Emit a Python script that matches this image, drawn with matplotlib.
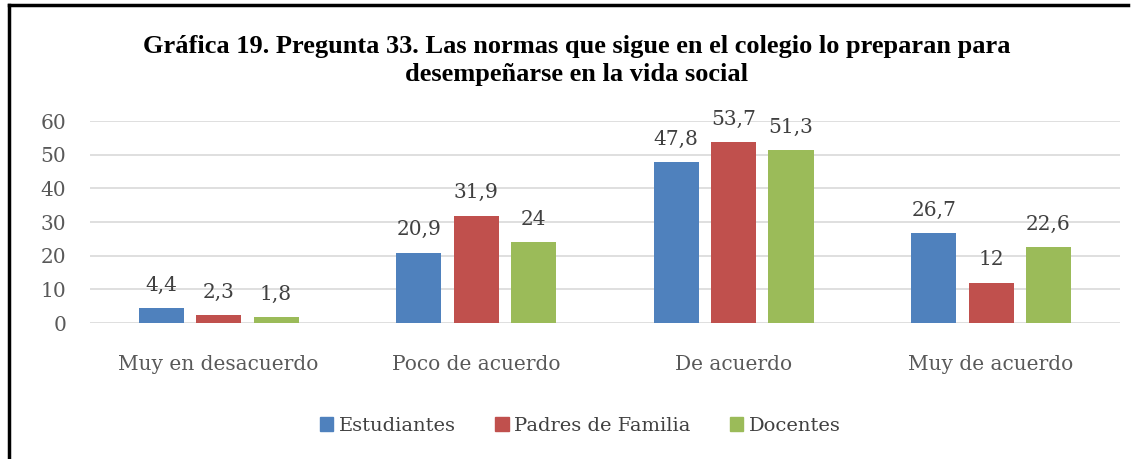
import matplotlib.pyplot as plt
import numpy as np
from matplotlib.lines import Line2D
from matplotlib.patches import Patch

# Data
categories = ["Muy en desacuerdo", "Poco de acuerdo", "De acuerdo", "Muy de acuerdo"]
series_names = ["Estudiantes", "Padres de Familia", "Docentes"]
estudiantes = [4.4, 20.9, 47.8, 26.7]
padres = [2.3, 31.9, 53.7, 12]
docentes = [1.8, 24, 51.3, 22.6]
value_labels = [
    ["4,4", "20,9", "47,8", "26,7"],
    ["2,3", "31,9", "53,7", "12"],
    ["1,8", "24", "51,3", "22,6"],
]
colors = ["#4F81BD", "#C0504D", "#9BBB59"]

fig = plt.figure(figsize=(11.38, 4.59), dpi=100)
ax = fig.add_axes([0.079, 0.296, 0.905, 0.44])

x = np.arange(len(categories))
width = 0.175
offsets = [-0.223, 0, 0.223]
all_series = [estudiantes, padres, docentes]

for vals, off, col, labs in zip(all_series, offsets, colors, value_labels):
    bars = ax.bar(x + off, vals, width, color=col, zorder=3)
    for b, lab in zip(bars, labs):
        ax.text(b.get_x() + b.get_width() / 2, b.get_height() + 4.0, lab,
                ha="center", va="bottom", fontsize=14.5, color="#404040",
                family="DejaVu Serif")

ax.set_xlim(-0.5, 3.5)
ax.set_ylim(0, 60)
ax.set_yticks(range(0, 61, 10))
ax.set_xticks(x)
ax.set_xticklabels(categories)
ax.grid(axis="y", color="#D9D9D9", linewidth=1.2, zorder=0)
for s in ax.spines.values():
    s.set_visible(False)
ax.tick_params(length=0, labelsize=14.5, labelcolor="#595959")
ax.tick_params(axis="x", pad=23)
ax.tick_params(axis="y", pad=17)
for t in ax.get_xticklabels() + ax.get_yticklabels():
    t.set_family("DejaVu Serif")

fig.text(0.507, 0.868, "Gráfica 19. Pregunta 33. Las normas que sigue en el colegio lo preparan para\ndesempeñarse en la vida social",
         ha="center", va="center", fontsize=19, fontweight="bold",
         family="Liberation Serif", linespacing=1.25)

handles = [Patch(color=c) for c in colors]
fig.legend(handles, series_names, loc="center", bbox_to_anchor=(0.51, 0.072),
           ncol=3, frameon=False, prop={"family": "DejaVu Serif", "size": 14},
           handlelength=0.7, handleheight=0.7, handletextpad=0.3,
           columnspacing=2.0, labelcolor="#404040")

# frame lines (top and left)
fig.add_artist(Line2D([0.008, 0.008], [0.0, 0.989], color="black", linewidth=2.5))
fig.add_artist(Line2D([0.008, 0.991], [0.989, 0.989], color="black", linewidth=2.5))

fig.savefig("out.png", dpi=100)
